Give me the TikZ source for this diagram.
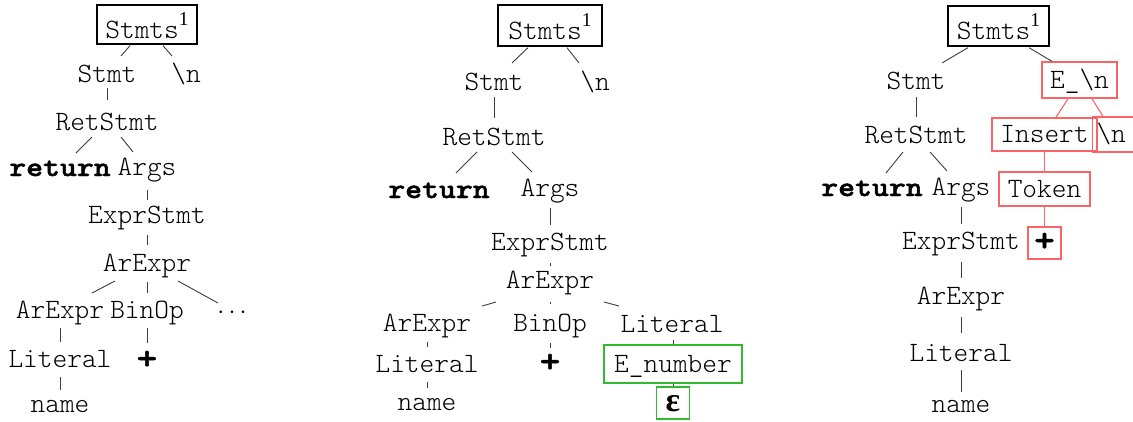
\documentclass[tikz,border=0pt]{standalone}
\usepackage{fontspec}
\setmonofont{lmmonolt10-regular.otf}[BoldFont=lmmonolt10-bold.otf, BoldFeatures={FakeBold=1.6, FakeStretch=1.15}]
\newfontfamily\supfont{Liberation Serif}
\newfontfamily\epsfont{Liberation Serif}
\usetikzlibrary{calc}
\definecolor{linkgray}{RGB}{60,60,60}
\definecolor{insred}{RGB}{250,100,100}
\definecolor{numgreen}{RGB}{50,185,50}
\newcommand\supone{\raisebox{13pt}{\supfont\fontsize{19.5}{19}\selectfont 1}}
\tikzset{
  txt/.style={font=\ttfamily\fontsize{28}{30}\selectfont},
  bftxt/.style={font=\ttfamily\bfseries\fontsize{28}{30}\selectfont},
  plustxt/.style={font=\ttfamily\bfseries\fontsize{34}{34}\selectfont},
  lbl/.style={txt, anchor=base, inner sep=0pt},
  kw/.style={lbl, bftxt},
  boxed/.style={txt, draw, line width=1.3pt, inner sep=0pt, text height=21pt, text depth=5pt},
  stbox/.style={boxed, text height=31pt, text depth=4pt},
  redbox/.style={boxed, draw=insred},
  greenbox/.style={boxed, draw=numgreen},
  link/.style={draw=linkgray, line width=0.9pt},
  redlink/.style={draw=insred, line width=1.1pt},
}
\begin{document}
\begin{tikzpicture}[x=1pt,y=-1pt]
\useasboundingbox (0,0) rectangle (1133,421);
\clip (0,0) rectangle (1133,421);

% ---------- first tree ----------
\node[stbox, minimum width=100pt, minimum height=39pt] (a-root) at (147,24.5) {Stmts\supone};
\node[lbl] (a-stmt) at (107,82) {Stmt};
\node[lbl] (a-nl) at (186,82) {\textbackslash n};
\node[lbl] (a-ret) at (107,130) {RetStmt};
\node[kw] (a-return) at (60,176) {return};
\node[lbl] (a-args) at (147,175) {Args};
\node[lbl] (a-expr) at (147,223) {ExprStmt};
\node[lbl] (a-ar) at (147,271) {ArExpr};
\node[lbl] (a-arl) at (60,318) {ArExpr};
\node[lbl] (a-bin) at (147,318) {BinOp};
\node[lbl] (a-dots) at (232,318) {$\cdots$};
\node[lbl] (a-lit) at (60,367) {Literal};
\node[lbl, plustxt] (a-plus) at (147,369) {+};
\node[lbl] (a-name) at (60,412) {name};

\draw[link] ([shift={(-17,1)}]a-root.south) -- ([shift={(14,-26)}]a-stmt.base);
\draw[link] ([shift={(16,1)}]a-root.south) -- ([shift={(-14,-26)}]a-nl.base);
\draw[link] ([shift={(0,6)}]a-stmt.base) -- ([shift={(0,-30)}]a-ret.base);
\draw[link] ([shift={(-15,7)}]a-ret.base) -- ([shift={(16,-23)}]a-return.base);
\draw[link] ([shift={(14,7)}]a-ret.base) -- ([shift={(-14,-23)}]a-args.base);
\draw[link] ([shift={(0,15)}]a-args.base) -- ([shift={(0,-23)}]a-expr.base);
\draw[link] ([shift={(0,12)}]a-expr.base) -- ([shift={(0,-26)}]a-ar.base);
\draw[link] ([shift={(-32,10)}]a-ar.base) -- ([shift={(32,-25)}]a-arl.base);
\draw[link] ([shift={(0,11)}]a-ar.base) -- ([shift={(0,-25)}]a-bin.base);
\draw[link] ([shift={(31,10)}]a-ar.base) -- ([shift={(-14,-15)}]a-dots.base);
\draw[link] ([shift={(0,10)}]a-arl.base) -- ([shift={(0,-25)}]a-lit.base);
\draw[link] ([shift={(0,10)}]a-bin.base) -- ([shift={(0,-26)}]a-plus.base);
\draw[link] ([shift={(0,10)}]a-lit.base) -- ([shift={(0,-22)}]a-name.base);

% ---------- second tree ----------
\node[stbox, minimum width=104pt, minimum height=41pt] (b-root) at (550,25.5) {Stmts\supone};
\node[lbl] (b-stmt) at (494,90) {Stmt};
\node[lbl] (b-nl) at (595,90) {\textbackslash n};
\node[lbl] (b-ret) at (494,145) {RetStmt};
\node[kw] (b-return) at (439,198) {return};
\node[lbl] (b-args) at (550,196) {Args};
\node[lbl] (b-expr) at (550,250) {ExprStmt};
\node[lbl] (b-ar) at (550,288) {ArExpr};
\node[lbl] (b-arl) at (427,331) {ArExpr};
\node[lbl] (b-bin) at (550,331) {BinOp};
\node[lbl] (b-litr) at (672,332) {Literal};
\node[lbl] (b-litl) at (427,372) {Literal};
\node[lbl, plustxt] (b-plus) at (550,372) {+};
\node[greenbox, minimum width=138pt, minimum height=38pt] (b-num) at (673,364) {E\_number};
\node[lbl] (b-name) at (427,410) {name};
\node[greenbox, minimum width=33pt, minimum height=32pt, font=\epsfont\bfseries\fontsize{34}{34}\selectfont] (b-eps) at (673,403) {ε};

\draw[link] ([shift={(-22,1)}]b-root.south) -- ([shift={(18,-27)}]b-stmt.base);
\draw[link] ([shift={(17,1)}]b-root.south) -- ([shift={(-16,-27)}]b-nl.base);
\draw[link] ([shift={(0,7)}]b-stmt.base) -- ([shift={(0,-27)}]b-ret.base);
\draw[link] ([shift={(-17,7)}]b-ret.base) -- ([shift={(17,-25)}]b-return.base);
\draw[link] ([shift={(18,7)}]b-ret.base) -- ([shift={(-18,-24)}]b-args.base);
\draw[link] ([shift={(0,12)}]b-args.base) -- ([shift={(0,-25)}]b-expr.base);
\draw[link] ([shift={(0,13)}]b-expr.base) -- ([shift={(0,-22)}]b-ar.base);
\draw[link] ([shift={(-54,14)}]b-ar.base) -- ([shift={(55,-25)}]b-arl.base);
\draw[link] ([shift={(0,14)}]b-ar.base) -- ([shift={(0,-27)}]b-bin.base);
\draw[link] ([shift={(54,14)}]b-ar.base) -- ([shift={(-53,-26)}]b-litr.base);
\draw[link] ([shift={(0,11)}]b-arl.base) -- ([shift={(0,-25)}]b-litl.base);
\draw[link] ([shift={(0,12)}]b-bin.base) -- ([shift={(0,-24)}]b-plus.base);
\draw[link] ([shift={(1,8)}]b-litr.base) -- (b-num.north);
\draw[link] (b-num.south) -- (b-eps.north);
\draw[link] ([shift={(0,10)}]b-litl.base) -- ([shift={(0,-22)}]b-name.base);

% ---------- third tree ----------
\node[stbox, minimum width=101pt, minimum height=40pt] (c-root) at (998.5,26) {Stmts\supone};
\node[lbl] (c-stmt) at (916,89) {Stmt};
\node[redbox, minimum width=75pt, minimum height=36pt] (c-enl) at (1079.5,80) {E\_\textbackslash n};
\node[lbl] (c-ret) at (916,143) {RetStmt};
\node[redbox, minimum width=105pt, minimum height=33pt] (c-ins) at (1044.5,134.5) {Insert};
\node[redbox, minimum width=48pt, minimum height=35pt, text width=40pt, align=left] (c-nl) at (1116.5,134.5) {\textbackslash n};
\node[kw] (c-return) at (872,196) {return};
\node[lbl] (c-args) at (961,195) {Args};
\node[redbox, minimum width=91pt, minimum height=34pt] (c-tok) at (1044.5,189) {Token};
\node[lbl] (c-expr) at (961,249) {ExprStmt};
\node[redbox, minimum width=33pt, minimum height=32pt, plustxt] (c-plus) at (1044.5,243) {+};
\node[lbl] (c-ar) at (961,304) {ArExpr};
\node[lbl] (c-lit) at (961,361) {Literal};
\node[lbl] (c-name) at (961,412) {name};

\draw[link] ([shift={(-30.5,1)}]c-root.south) -- ([shift={(26,-26)}]c-stmt.base);
\draw[link] ([shift={(30.5,1)}]c-root.south) -- ([shift={(-27.5,0)}]c-enl.north);
\draw[link] ([shift={(0,8)}]c-stmt.base) -- ([shift={(0,-26)}]c-ret.base);
\draw[link] ([shift={(-13,9)}]c-ret.base) -- ([shift={(14,-23)}]c-return.base);
\draw[link] ([shift={(14,9)}]c-ret.base) -- ([shift={(-14,-24)}]c-args.base);
\draw[link] ([shift={(0,12)}]c-args.base) -- ([shift={(0,-25)}]c-expr.base);
\draw[link] ([shift={(0,13)}]c-expr.base) -- ([shift={(0,-26)}]c-ar.base);
\draw[link] ([shift={(0,13)}]c-ar.base) -- ([shift={(0,-28)}]c-lit.base);
\draw[link] ([shift={(0,9)}]c-lit.base) -- ([shift={(0,-20)}]c-name.base);
\draw[redlink] ([shift={(-11.5,0)}]c-enl.south) -- ([shift={(11.5,0)}]c-ins.north);
\draw[redlink] ([shift={(12.5,0)}]c-enl.south) -- ([shift={(-13.5,0)}]c-nl.north);
\draw[redlink] (c-ins.south) -- (c-tok.north);
\draw[redlink] (c-tok.south) -- (c-plus.north);
\end{tikzpicture}
\end{document}
